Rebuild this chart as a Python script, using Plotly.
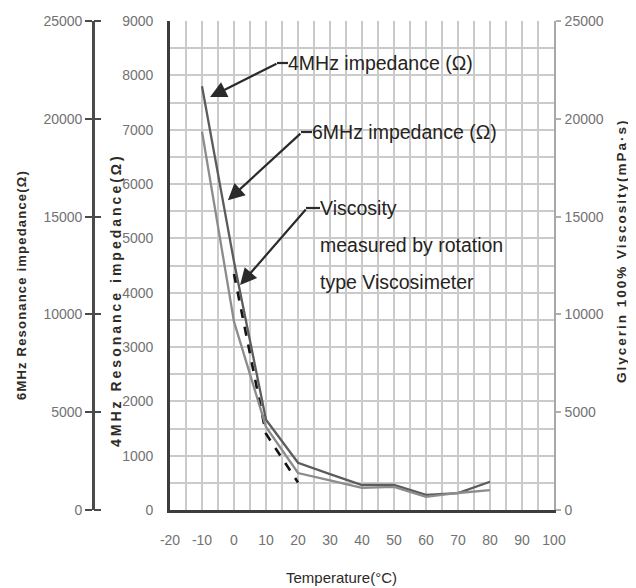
import plotly.graph_objects as go

# ---------------- data ----------------
temps = [-10, 0, 10, 20, 30, 40, 50, 60, 70, 80]
imp_4mhz = [7800, 4570, 1660, 870, 660, 460, 460, 280, 310, 520]          # Ω, inner left axis
imp_6mhz = [19350, 9630, 4250, 1890, 1510, 1130, 1180, 670, 870, 1020]    # Ω, outer left axis
visc_temps = [0, 10, 20]
viscosity = [12070, 3900, 1410]                                            # mPa·s, right axis

x_ticks = list(range(-20, 101, 10))
y4_ticks = list(range(0, 9001, 1000))
y6_ticks = list(range(0, 25001, 5000))
visc_ticks = list(range(0, 25001, 5000))

# ---------------- layout helpers ----------------
# the page body has an 8px margin, so the figure starts at (8, 8) in the window
OFF = 8
W, H = 636 - OFF, 588 - OFF
def px(x):
    return (x - OFF) / W
def py(y):
    return (H - (y - OFF)) / H

SANS = "Liberation Sans, Arial, sans-serif"
GRID = "#cacaca"
TICKFONT = dict(family=SANS, size=14, color="#727272")

fig = go.Figure()
fig.add_trace(go.Scatter(x=temps, y=imp_4mhz, mode="lines", yaxis="y",
                         line=dict(color="#5c5c5c", width=2.3), hoverinfo="skip"))
fig.add_trace(go.Scatter(x=temps, y=imp_6mhz, mode="lines", yaxis="y3",
                         line=dict(color="#8c8c8c", width=2.3), hoverinfo="skip"))
fig.add_trace(go.Scatter(x=visc_temps, y=viscosity, mode="lines", yaxis="y2",
                         line=dict(color="#151515", width=2.6, dash="dash"), hoverinfo="skip"))
# carrier for the inward half of the outer-axis cross ticks
fig.add_trace(go.Scatter(x=[temps[0]], y=[imp_6mhz[0]], mode="lines", yaxis="y4",
                         line=dict(color="rgba(0,0,0,0)"), hoverinfo="skip"))

xd = [px(170), px(554)]
yd = [py(510), py(21)]

def labels(vals):
    return [str(v) for v in vals]

fig.update_layout(
    width=W, height=H,
    margin=dict(l=0, r=0, t=0, b=0, autoexpand=False),
    paper_bgcolor="white", plot_bgcolor="white",
    showlegend=False,
    xaxis=dict(domain=xd, range=[-20, 100], tickvals=x_ticks, ticktext=labels(x_ticks),
               ticks="", tickangle=0, automargin=False,
               ticklabelstandoff=15, tickfont=TICKFONT,
               showgrid=True, gridcolor=GRID, gridwidth=1.6,
               minor=dict(dtick=5, showgrid=True, gridcolor=GRID, gridwidth=1.6),
               showline=True, linecolor="#3c3c3c", linewidth=2.6, zeroline=False),
    yaxis=dict(domain=yd, range=[0, 9000], tickvals=y4_ticks, ticktext=labels(y4_ticks),
               ticks="", automargin=False,
               ticklabelstandoff=11, tickfont=TICKFONT,
               showgrid=True, gridcolor=GRID, gridwidth=1.6,
               minor=dict(dtick=500, showgrid=True, gridcolor=GRID, gridwidth=1.6),
               showline=True, linecolor="#3c3c3c", linewidth=2.6, zeroline=False),
    yaxis2=dict(overlaying="y", side="right", anchor="x", range=[0, 25000],
                tickvals=visc_ticks, ticktext=labels(visc_ticks), automargin=False,
                ticks="outside", ticklen=5, tickwidth=1.5,
                tickcolor="#b0b0b0", tickfont=TICKFONT, ticklabelstandoff=1,
                showgrid=False, showline=True, linecolor="#a8a8a8", linewidth=1.6,
                zeroline=False),
    yaxis3=dict(overlaying="y", side="left", anchor="free", position=px(93),
                range=[0, 25000], tickvals=y6_ticks, ticktext=labels(y6_ticks),
                automargin=False, ticks="outside", ticklen=7,
                tickwidth=2.2, tickcolor="#4a4a4a", tickfont=TICKFONT,
                ticklabelstandoff=0,
                showgrid=False, showline=True, linecolor="#4a4a4a", linewidth=2.6,
                zeroline=False),
    yaxis4=dict(overlaying="y", side="right", anchor="free", position=px(93),
                range=[0, 25000], tickvals=y6_ticks, ticks="outside", ticklen=7,
                automargin=False,
                tickwidth=2.2, tickcolor="#4a4a4a", showticklabels=False,
                showgrid=False, showline=False, zeroline=False),
)

ann = []
def title(text, x, y, size, angle=-90, spacing=0, bold=True):
    t = f'<span style="letter-spacing:{spacing}px">{text}</span>'
    if bold:
        t = "<b>" + t + "</b>"
    ann.append(dict(text=t, x=px(x), y=py(y), xref="paper", yref="paper",
                    showarrow=False, textangle=angle, xanchor="center", yanchor="middle",
                    font=dict(family=SANS, size=size, color="#2e2a26")))

title("6MHz Resonance impedance(Ω)", 21, 285, 13, spacing=1.2)
title("4MHz Resonance impedance(Ω)", 116, 300, 14, spacing=3)
title("Glycerin 100% Viscosity(mPa·s)", 621, 251, 13.5, spacing=2)
ann.append(dict(text="Temperature(°C)", x=px(341), y=py(577), xref="paper", yref="paper",
                showarrow=False, xanchor="center", yanchor="middle",
                font=dict(family=SANS, size=15, color="#2e2a26")))

LABEL_FONT = dict(family=SANS, size=19.5, color="#262320")
def label(text, x, y):
    ann.append(dict(text=text, x=px(x), y=py(y), xref="paper", yref="paper",
                    showarrow=False, xanchor="left", yanchor="middle", font=LABEL_FONT))

label("4MHz impedance (Ω)", 286, 63)
label("6MHz impedance (Ω)", 310, 132)
label("Viscosity", 318, 208)
label("measured by rotation", 318, 245)
label("type Viscosimeter", 318, 282)

def arrow(tip_x, tip_y, ax, ay):
    ann.append(dict(text="", x=tip_x, y=tip_y, xref="x", yref="y",
                    ax=ax, ay=ay, axref="pixel", ayref="pixel",
                    showarrow=True, arrowhead=2, arrowsize=1.5, arrowwidth=2.2,
                    arrowcolor="#2a2a2a", standoff=0))

arrow(-7.5, 7600, 68, -34)
arrow(-1.9, 5700, 74, -68)
arrow(1.9, 4140, 67, -77)
fig.update_layout(annotations=ann)

shapes = []
for x0, x1, y in [(277, 288, 63), (301, 312, 132), (306, 320, 208)]:
    shapes.append(dict(type="line", xref="paper", yref="paper",
                       x0=px(x0), x1=px(x1), y0=py(y), y1=py(y),
                       line=dict(color="#2a2a2a", width=2.2)))
fig.update_layout(shapes=shapes)

fig.write_html("out.html")
